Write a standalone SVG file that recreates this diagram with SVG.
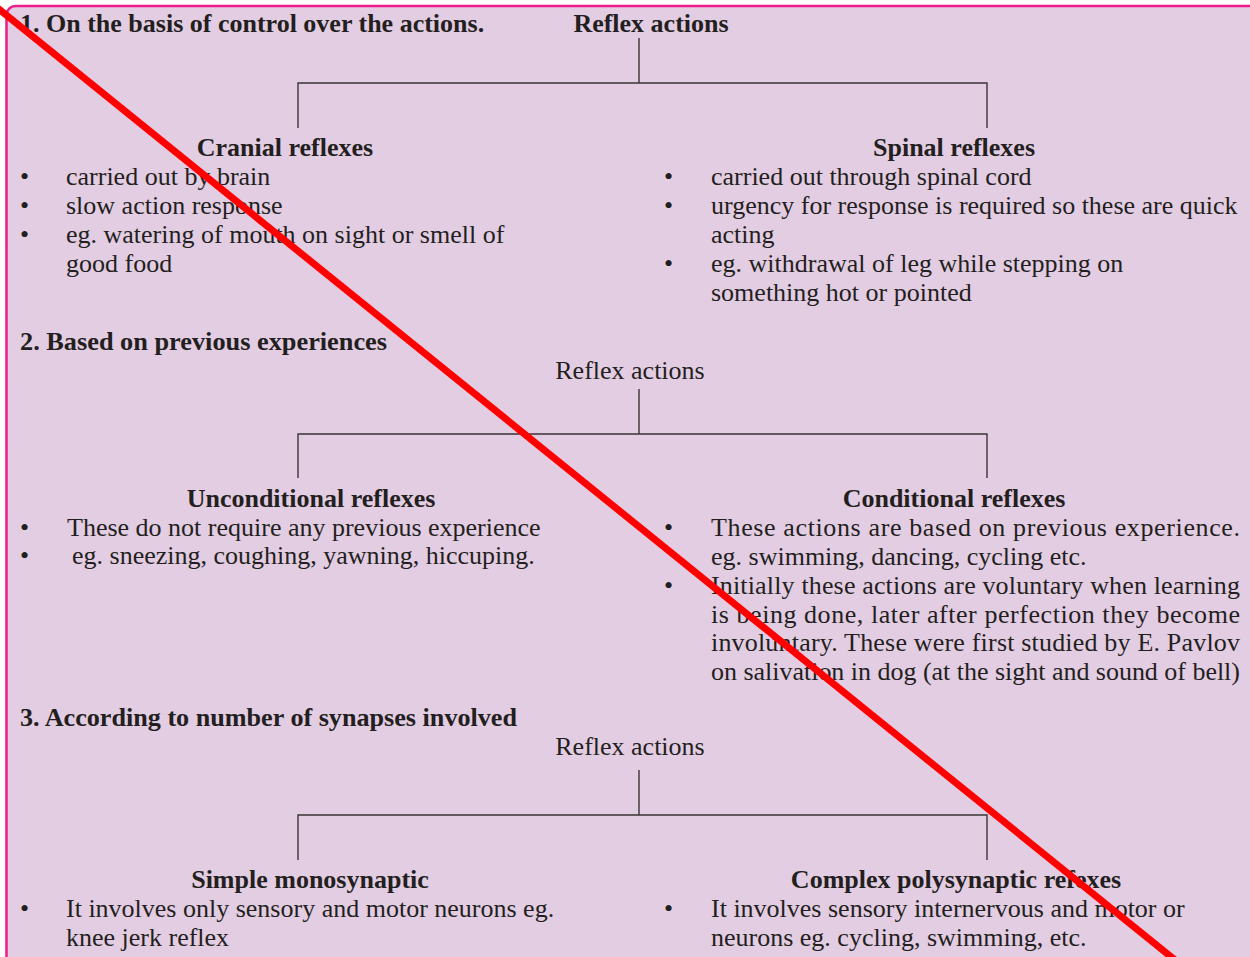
<svg xmlns="http://www.w3.org/2000/svg" width="1250" height="957" viewBox="0 0 1250 957">
<style>
text{font-family:"Liberation Serif","Times New Roman",serif;font-size:26px;fill:#231F20}
.b{font-weight:bold}
.c{text-anchor:middle}
.ln{stroke:#3a3536;stroke-width:1.4;fill:none}
</style>
<rect x="0" y="0" width="1250" height="957" fill="#ffffff"/>
<rect x="6.5" y="6" width="1300" height="1000" rx="9" fill="#E3CDE3" stroke="#EC1C8C" stroke-width="2.5"/>
<g id="connectors">
<path class="ln" d="M639 38V83M298 128V83H987V128"/>
<path class="ln" d="M639 389V434M298 478V434H987V478"/>
<path class="ln" d="M639 770V815M298 860V815H987V860"/>
</g>
<g id="sec1">
<text class="b" x="20" y="32">1. On the basis of control over the actions.</text>
<text class="b c" x="651" y="32">Reflex actions</text>
</g>
<g id="cranial">
<text class="b c" x="285" y="156">Cranial reflexes</text>
<text x="20" y="185">•</text><text x="66" y="185">carried out by brain</text>
<text x="20" y="214">•</text><text x="66" y="214">slow action response</text>
<text x="20" y="243">•</text><text x="66" y="243">eg. watering of mouth on sight or smell of</text>
<text x="66" y="272">good food</text>
</g>
<g id="spinal">
<text class="b c" x="954" y="156">Spinal reflexes</text>
<text x="664" y="185">•</text><text x="711" y="185">carried out through spinal cord</text>
<text x="664" y="214">•</text><text x="711" y="214">urgency for response is required so these are quick</text>
<text x="711" y="243">acting</text>
<text x="664" y="272">•</text><text x="711" y="272">eg. withdrawal of leg while stepping on</text>
<text x="711" y="301">something hot or pointed</text>
</g>
<g id="sec2">
<text class="b" x="20" y="350" textLength="367" lengthAdjust="spacingAndGlyphs">2. Based on previous experiences</text>
<text class="c" x="630" y="379">Reflex actions</text>
</g>
<g id="unconditional">
<text class="b c" x="311" y="507">Unconditional reflexes</text>
<text x="20" y="536">•</text><text x="67" y="536">These do not require any previous experience</text>
<text x="20" y="564">•</text><text x="72" y="564">eg. sneezing, coughing, yawning, hiccuping.</text>
</g>
<g id="conditional">
<text class="b c" x="954" y="507">Conditional reflexes</text>
<text x="664" y="536">•</text><text x="711" y="536" textLength="529" lengthAdjust="spacing">These actions are based on previous experience.</text>
<text x="711" y="565">eg. swimming, dancing, cycling etc.</text>
<text x="664" y="594">•</text><text x="711" y="594" textLength="529" lengthAdjust="spacing">Initially these actions are voluntary when learning</text>
<text x="711" y="623" textLength="529" lengthAdjust="spacing">is being done, later after perfection they become</text>
<text x="711" y="651" textLength="529" lengthAdjust="spacing">involuntary. These were first studied by E. Pavlov</text>
<text x="711" y="680" textLength="529" lengthAdjust="spacing">on salivation in dog (at the sight and sound of bell)</text>
</g>
<g id="sec3">
<text class="b" x="20" y="726" textLength="497" lengthAdjust="spacingAndGlyphs">3. According to number of synapses involved</text>
<text class="c" x="630" y="755">Reflex actions</text>
</g>
<g id="simple">
<text class="b c" x="310" y="888">Simple monosynaptic</text>
<text x="20" y="917">•</text><text x="66" y="917">It involves only sensory and motor neurons eg.</text>
<text x="66" y="946">knee jerk reflex</text>
</g>
<g id="complex">
<text class="b c" x="956" y="888">Complex polysynaptic refexes</text>
<text x="664" y="917">•</text><text x="711" y="917">It involves sensory internervous and motor or</text>
<text x="711" y="946">neurons eg. cycling, swimming, etc.</text>
</g>
<line x1="-5" y1="6" x2="1175" y2="960" stroke="#FF0000" stroke-width="7"/>
</svg>
